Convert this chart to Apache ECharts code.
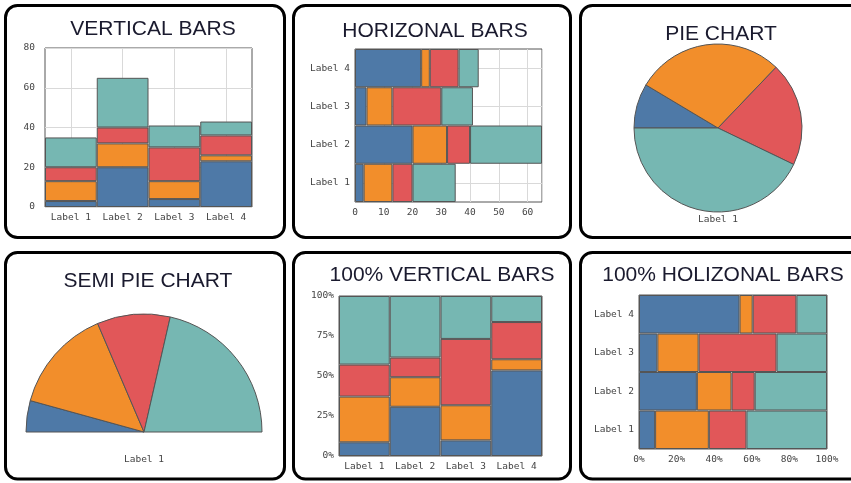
<!DOCTYPE html>
<html>
<head>
<meta charset="utf-8">
<script src="https://cdn.jsdelivr.net/npm/echarts@6/dist/echarts.min.js"></script>
<style>
html,body{margin:0;padding:0;background:#fff;}
#main{width:851px;height:483px;}
</style>
</head>
<body>
<div id="main"></div>
<script>
// ---- data ----
const categories = ['Label 1', 'Label 2', 'Label 3', 'Label 4'];
const series1 = [3, 20, 4, 23];
const series2 = [10, 12, 9, 3];
const series3 = [7, 8, 17, 10];
const series4 = [15, 25, 11, 7];
const seriesNames = ['Series 1', 'Series 2', 'Series 3', 'Series 4'];
const pieCategory = 'Label 1';
const titles = ['VERTICAL BARS', 'HORIZONAL BARS', 'PIE CHART', 'SEMI PIE CHART', '100% VERTICAL BARS', '100% HOLIZONAL BARS'];
const valueTicksVertical = [0, 20, 40, 60, 80];
const valueTicksHorizontal = [0, 10, 20, 30, 40, 50, 60];

// ---- styling ----
const colors = ['#4e79a7', '#f28e2b', '#e15759', '#76b7b2'];
const allSeries = [series1, series2, series3, series4];
const totals = categories.map((c, i) => allSeries.reduce((s, arr) => s + arr[i], 0));
const pct = arr => arr.map((v, i) => v / totals[i] * 100);

const monoFont = 'DejaVu Sans Mono';
const labelStyle = { color: '#444', fontFamily: monoFont, fontSize: 9.5 };
const titleStyle = { color: '#1a1a2e', fontFamily: 'Liberation Sans', fontSize: 21, fontWeight: 'normal' };
const gridStyle = { show: true, borderColor: '#555', borderWidth: 1, backgroundColor: '#fff' };
const splitStyle = { lineStyle: { color: '#d9d9d9', width: 1 } };
const barItem = c => ({ color: c, borderColor: '#555', borderWidth: 1 });

const chart = echarts.init(document.getElementById('main'), null, { renderer: 'canvas' });

function panel(x, y, w, h) {
  return { type: 'rect', shape: { x: x, y: y, width: w, height: h, r: 12 },
           style: { fill: 'none', stroke: '#000', lineWidth: 3 }, z: 100 };
}

const titleCenters = [[148, 24], [430, 26], [716, 29], [143, 276], [437, 270], [718, 270]];

const option = {
  animation: false,
  backgroundColor: '#fff',
  title: titles.map((t, i) => ({
    text: t, left: titleCenters[i][0], top: titleCenters[i][1], textAlign: 'center',
    textVerticalAlign: 'middle', textStyle: titleStyle, z: 10
  })),
  graphic: [
    panel(5.5, 5.5, 279, 232),
    panel(293.5, 5.5, 277, 232),
    panel(580.5, 5.5, 290, 232),
    panel(5.5, 252.5, 279, 226.5),
    panel(293.5, 252.5, 277, 226.5),
    panel(580.5, 252.5, 290, 226.5),
    { type: 'text', x: 718, y: 220, style: { text: pieCategory, fill: '#444', font: '9.5px ' + monoFont, align: 'center', verticalAlign: 'middle' } },
    { type: 'text', x: 144, y: 460, style: { text: pieCategory, fill: '#444', font: '9.5px ' + monoFont, align: 'center', verticalAlign: 'middle' } }
  ],
  grid: [
    Object.assign({ left: 45, top: 48, width: 207, height: 159 }, gridStyle),
    Object.assign({ left: 355, top: 49, width: 187, height: 153 }, gridStyle),
    Object.assign({ left: 339, top: 296, width: 203, height: 160 }, gridStyle),
    Object.assign({ left: 639, top: 295, width: 188, height: 154 }, gridStyle)
  ],
  xAxis: [
    { gridIndex: 0, type: 'category', data: categories, axisLine: { show: false }, axisTick: { show: false },
      axisLabel: Object.assign({ margin: 6, interval: 0 }, labelStyle),
      splitLine: Object.assign({ show: true, alignWithLabel: true, interval: 0 }, splitStyle) },
    { gridIndex: 1, type: 'value', min: valueTicksHorizontal[0], max: 65, interval: 10,
      axisLine: { show: false }, axisTick: { show: false },
      axisLabel: Object.assign({ margin: 6, showMaxLabel: false }, labelStyle),
      splitLine: Object.assign({ show: true }, splitStyle) },
    { gridIndex: 2, type: 'category', data: categories, axisLine: { show: false }, axisTick: { show: false },
      axisLabel: Object.assign({ margin: 6, interval: 0 }, labelStyle), splitLine: { show: false } },
    { gridIndex: 3, type: 'value', min: 0, max: 100, interval: 20, axisLine: { show: false }, axisTick: { show: false },
      axisLabel: Object.assign({ margin: 6, formatter: '{value}%' }, labelStyle), splitLine: { show: false } }
  ],
  yAxis: [
    { gridIndex: 0, type: 'value', min: valueTicksVertical[0], max: valueTicksVertical[valueTicksVertical.length - 1], interval: 20,
      axisLine: { show: false }, axisTick: { show: false },
      axisLabel: Object.assign({ margin: 10 }, labelStyle),
      splitLine: Object.assign({ show: true }, splitStyle) },
    { gridIndex: 1, type: 'category', data: categories, axisLine: { show: false }, axisTick: { show: false },
      axisLabel: Object.assign({ margin: 5, interval: 0 }, labelStyle),
      splitLine: Object.assign({ show: true, alignWithLabel: true, interval: 0 }, splitStyle) },
    { gridIndex: 2, type: 'value', min: 0, max: 100, interval: 25, axisLine: { show: false }, axisTick: { show: false },
      axisLabel: Object.assign({ margin: 5, formatter: '{value}%' }, labelStyle), splitLine: { show: false } },
    { gridIndex: 3, type: 'category', data: categories, axisLine: { show: false }, axisTick: { show: false },
      axisLabel: Object.assign({ margin: 5, interval: 0 }, labelStyle), splitLine: { show: false } }
  ],
  series: []
};

allSeries.forEach((arr, k) => {
  option.series.push({ name: seriesNames[k], type: 'bar', xAxisIndex: 0, yAxisIndex: 0, stack: 'v', data: arr,
    barCategoryGap: 0, itemStyle: barItem(colors[k]), emphasis: { disabled: true } });
  option.series.push({ name: seriesNames[k], type: 'bar', xAxisIndex: 1, yAxisIndex: 1, stack: 'h', data: arr,
    barCategoryGap: 0, itemStyle: barItem(colors[k]), emphasis: { disabled: true } });
  option.series.push({ name: seriesNames[k], type: 'bar', xAxisIndex: 2, yAxisIndex: 2, stack: 'pv', data: pct(arr),
    barCategoryGap: 0, itemStyle: barItem(colors[k]), emphasis: { disabled: true } });
  option.series.push({ name: seriesNames[k], type: 'bar', xAxisIndex: 3, yAxisIndex: 3, stack: 'ph', data: pct(arr),
    barCategoryGap: 0, itemStyle: barItem(colors[k]), emphasis: { disabled: true } });
});

const pieIdx = categories.indexOf(pieCategory);
const pieData = allSeries.map((arr, k) => ({ name: seriesNames[k], value: arr[pieIdx], itemStyle: { color: colors[k] } }));

option.series.push({
  type: 'pie', center: [718, 128], radius: [0, 84], startAngle: 180, clockwise: true,
  data: pieData, label: { show: false }, labelLine: { show: false },
  itemStyle: { borderColor: '#555', borderWidth: 1 }, emphasis: { disabled: true }
});
option.series.push({
  type: 'pie', center: [144, 432], radius: [0, 118], startAngle: 180, endAngle: 0, clockwise: true,
  data: pieData, label: { show: false }, labelLine: { show: false },
  itemStyle: { borderColor: '#555', borderWidth: 1 }, emphasis: { disabled: true }
});

chart.setOption(option);
</script>
</body>
</html>
